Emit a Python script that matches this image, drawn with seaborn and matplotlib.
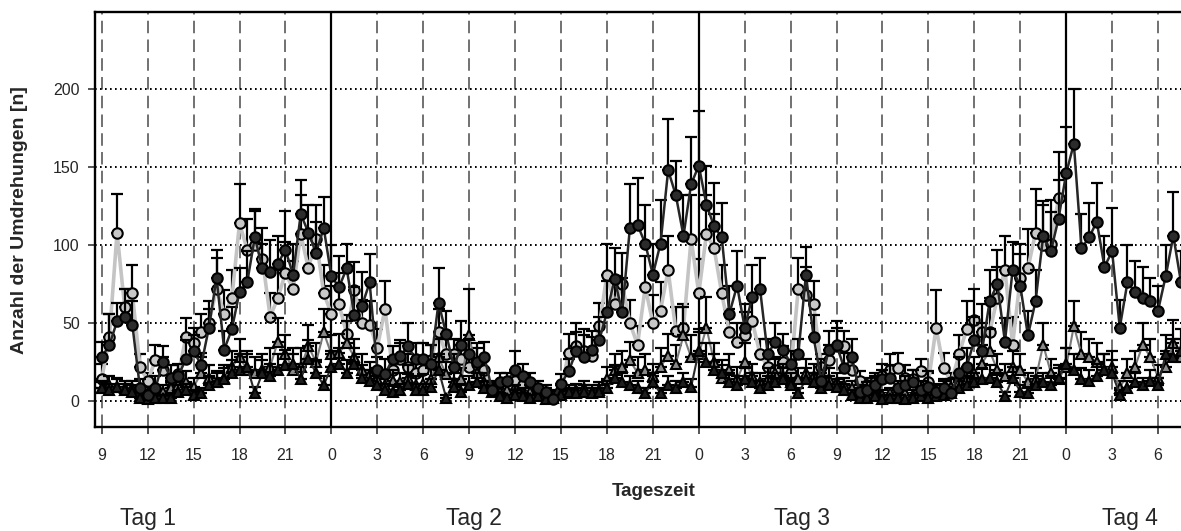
import numpy as np
import pandas as pd
import matplotlib
matplotlib.use('Agg')
import matplotlib.pyplot as plt
import seaborn as sns

# half-hour time points, hours counted from midnight of day 1 (9:00 day 1 .. 7:30 day 4)
hours = np.arange(9, 80, 0.5)

# dark circles
dark_d1 = [28, 36, 51, 54, 49, 8, 4, 8, 25, 15, 16, 27, 32, 23, 47, 79, 33, 46, 70, 76,
           105, 85, 83, 88, 97, 81, 120, 108, 95, 111]
dark_d2 = [80, 73, 85, 55, 61, 76, 20, 17, 27, 29, 35, 27, 27, 24, 63, 43, 22, 36, 30, 25,
           28, 7, 12, 13, 20, 16, 12, 8, 6, 1, 11, 19, 32, 28, 33, 39, 57, 78, 57, 111,
           113, 101, 81, 101, 148, 132, 106, 139]
dark_d3 = [151, 126, 112, 105, 56, 74, 47, 67, 72, 30, 38, 33, 24, 30, 81, 41, 13, 33, 36, 21,
           28, 6, 7, 10, 14, 15, 8, 10, 12, 7, 9, 6, 8, 5, 18, 22, 39, 32, 64, 75,
           38, 84, 74, 42, 64, 106, 96, 117]
dark_d4 = [146, 165, 98, 105, 115, 86, 96, 47, 76, 70, 66, 64, 58, 80, 106, 76]

dark_err_d1 = [10, 20, 12, 18, 15, 6, 5, 8, 10, 8, 8, 12, 10, 8, 12, 18, 12, 14, 15, 20,
               18, 16, 20, 18, 25, 20, 22, 18, 20, 20]
dark_err_d2 = [20, 20, 16, 18, 22, 18, 8, 10, 8, 10, 15, 10, 10, 12, 22, 15, 8, 15, 10, 12,
               10, 5, 6, 5, 12, 8, 6, 5, 4, 3, 6, 8, 12, 14, 12, 15, 20, 20, 22, 28,
               30, 25, 20, 28, 33, 22, 26, 30]
dark_err_d3 = [35, 25, 28, 22, 18, 22, 15, 20, 20, 10, 12, 10, 8, 10, 18, 14, 5, 12, 15, 10,
               12, 4, 5, 6, 6, 8, 5, 6, 8, 6, 10, 4, 6, 4, 10, 12, 15, 18, 20, 22,
               15, 18, 20, 16, 20, 22, 25, 25]
dark_err_d4 = [30, 35, 22, 22, 25, 20, 28, 18, 24, 20, 20, 15, 16, 20, 28, 20]

# light circles (no data on day 4)
light_d1 = [14, 41, 108, 60, 69, 22, 13, 26, 20, 12, 17, 41, 37, 44, 50, 72, 56, 66, 114, 97,
            100, 91, 54, 66, 82, 72, 107, 85, 104, 69]
light_d2 = [56, 62, 43, 71, 50, 49, 34, 59, 20, 27, 22, 18, 20, 26, 44, 30, 30, 27, 22, 24,
            20, 8, 7, 10, 13, 10, 8, 5, 4, 3, 7, 31, 35, 32, 29, 48, 81, 62, 75, 50,
            36, 73, 50, 58, 84, 45, 47, 104]
light_d3 = [69, 107, 98, 69, 44, 38, 42, 51, 30, 22, 20, 25, 18, 72, 68, 62, 22, 26, 35, 35,
            20, 13, 10, 12, 16, 20, 21, 15, 14, 19, 12, 47, 21, 12, 30, 46, 52, 44, 44, 66,
            84, 36, 79, 85, 108, 100, 101, 130]
light_d4 = [np.nan] * 16

light_err_d1 = [10, 15, 25, 12, 18, 8, 5, 10, 8, 5, 6, 12, 10, 12, 14, 20, 15, 18, 25, 20,
                22, 20, 15, 18, 20, 18, 25, 20, 22, 18]
light_err_d2 = [18, 20, 12, 18, 15, 15, 12, 18, 8, 10, 8, 6, 8, 10, 15, 10, 10, 12, 8, 10,
                8, 4, 4, 5, 6, 5, 4, 3, 3, 2, 4, 12, 15, 14, 12, 15, 20, 18, 20, 15,
                12, 20, 18, 18, 22, 15, 15, 28]
light_err_d3 = [22, 25, 22, 18, 15, 12, 15, 15, 10, 8, 8, 10, 8, 20, 18, 15, 8, 10, 12, 10,
                8, 6, 5, 6, 8, 10, 10, 8, 6, 8, 6, 24, 10, 6, 12, 18, 20, 18, 22, 20,
                22, 18, 22, 25, 28, 26, 28, 30]
light_err_d4 = [np.nan] * 16

# grey triangles
grey_d1 = [8, 10, 9, 8, 8, 3, 4, 5, 6, 8, 10, 12, 9, 18, 15, 12, 15, 22, 28, 20,
           18, 20, 22, 38, 30, 20, 22, 35, 25, 44]
grey_d2 = [30, 31, 37, 28, 20, 17, 14, 10, 13, 12, 15, 10, 11, 14, 28, 17, 12, 14, 42, 18,
           12, 8, 6, 7, 6, 5, 6, 4, 5, 4, 6, 5, 7, 8, 6, 7, 14, 20, 22, 26,
           18, 20, 16, 22, 29, 24, 42, 28]
grey_d3 = [30, 47, 25, 15, 20, 14, 25, 16, 12, 14, 18, 16, 12, 14, 18, 16, 18, 14, 12, 10,
           8, 6, 5, 6, 4, 5, 4, 5, 4, 5, 6, 7, 8, 9, 12, 14, 18, 24, 32, 20,
           16, 22, 20, 12, 14, 36, 18, 14]
grey_d4 = [22, 48, 30, 28, 25, 20, 22, 8, 18, 22, 36, 28, 15, 22, 37, 28]

grey_err_d1 = [5, 6, 6, 5, 5, 3, 3, 3, 4, 5, 6, 7, 6, 10, 8, 7, 8, 10, 12, 10,
               10, 10, 12, 15, 12, 10, 12, 14, 12, 15]
grey_err_d2 = [12, 12, 14, 12, 10, 8, 7, 6, 7, 6, 8, 6, 6, 7, 12, 8, 6, 7, 30, 8,
               6, 5, 4, 4, 4, 3, 4, 3, 3, 3, 4, 3, 4, 5, 4, 5, 8, 10, 10, 12,
               10, 10, 8, 12, 14, 12, 18, 14]
grey_err_d3 = [14, 20, 12, 8, 10, 8, 12, 8, 6, 7, 9, 8, 6, 7, 9, 8, 9, 7, 6, 5,
               5, 4, 3, 4, 3, 3, 3, 3, 3, 3, 4, 4, 5, 5, 6, 8, 10, 12, 14, 10,
               8, 10, 10, 6, 7, 14, 9, 7]
grey_err_d4 = [12, 16, 14, 12, 12, 10, 10, 5, 9, 10, 14, 12, 8, 10, 15, 12]

# black triangles
black_d1 = [8, 7, 9, 7, 6, 2, 1, 2, 2, 2, 6, 7, 4, 5, 10, 12, 14, 18, 20, 22,
            5, 18, 16, 20, 23, 24, 14, 27, 18, 10]
black_d2 = [22, 24, 18, 24, 15, 13, 10, 7, 6, 7, 11, 7, 7, 9, 20, 2, 9, 6, 10, 12,
            8, 6, 3, 2, 4, 3, 2, 3, 1, 2, 4, 6, 5, 6, 5, 6, 8, 15, 12, 10,
            8, 5, 12, 5, 10, 8, 12, 9]
black_d3 = [32, 25, 20, 18, 12, 10, 14, 12, 8, 10, 12, 14, 10, 5, 14, 12, 8, 10, 9, 7,
            4, 2, 2, 3, 1, 2, 2, 1, 2, 3, 2, 3, 4, 5, 8, 10, 12, 14, 15, 12,
            3, 15, 6, 5, 10, 12, 10, 15]
black_d4 = [24, 20, 14, 13, 16, 20, 18, 4, 8, 12, 10, 13, 10, 30, 28, 32]

black_err_d1 = [4, 4, 5, 4, 4, 2, 2, 2, 2, 2, 4, 4, 3, 3, 6, 6, 7, 8, 10, 10,
                4, 8, 8, 10, 10, 10, 8, 12, 8, 6]
black_err_d2 = [10, 10, 8, 10, 8, 7, 6, 4, 4, 4, 6, 4, 4, 5, 10, 2, 5, 4, 6, 6,
                5, 4, 2, 2, 3, 2, 2, 2, 1, 2, 3, 4, 3, 4, 3, 4, 5, 8, 6, 6,
                5, 3, 6, 3, 6, 5, 6, 5]
black_err_d3 = [14, 12, 10, 8, 6, 6, 7, 6, 5, 6, 6, 7, 5, 3, 7, 6, 5, 6, 5, 4,
                3, 2, 2, 2, 1, 2, 2, 1, 2, 2, 2, 2, 3, 3, 5, 6, 6, 7, 8, 6,
                3, 7, 4, 3, 6, 6, 6, 8]
black_err_d4 = [10, 10, 7, 7, 8, 10, 8, 3, 5, 6, 5, 7, 5, 12, 12, 14]

tick_hours = list(range(9, 80, 3))
day_labels = ['Tag 1', 'Tag 2', 'Tag 3', 'Tag 4']

df = pd.DataFrame({
    'hour': hours,
    'dark': dark_d1 + dark_d2 + dark_d3 + dark_d4,
    'dark_err': dark_err_d1 + dark_err_d2 + dark_err_d3 + dark_err_d4,
    'light': light_d1 + light_d2 + light_d3 + light_d4,
    'light_err': light_err_d1 + light_err_d2 + light_err_d3 + light_err_d4,
    'grey': grey_d1 + grey_d2 + grey_d3 + grey_d4,
    'grey_err': grey_err_d1 + grey_err_d2 + grey_err_d3 + grey_err_d4,
    'black': black_d1 + black_d2 + black_d3 + black_d4,
    'black_err': black_err_d1 + black_err_d2 + black_err_d3 + black_err_d4,
})

sns.set_style('ticks')
plt.rcParams['font.family'] = ['Liberation Sans', 'DejaVu Sans']
plt.rcParams['lines.scale_dashes'] = False

fig = plt.figure(figsize=(11.81, 5.31), dpi=100)
ax = fig.add_axes([95 / 1181, 1 - 427 / 531, 1 - 95 / 1181, 415 / 531])

# grid
for h in tick_hours:
    if h % 24 == 0:
        ax.axvline(h, color='black', lw=1.6, zorder=1)
    else:
        ax.axvline(h, color='#4a4a4a', lw=1.1, ls=(0, (9, 4.5)), zorder=1)
for y in [0, 50, 100, 150, 200]:
    ax.axhline(y, color='black', lw=1.4, ls=(0, (1.2, 2.4)), zorder=1)

series = [
    ('light', '#c8c8c8', '#c4c4c4', 'o', 2.6),
    ('grey', '#8a8a8a', '#7a7a7a', '^', 1.5),
    ('black', '#1e1e1e', '#2a2a2a', '^', 1.5),
    ('dark', '#2b2b2b', '#262626', 'o', 1.8),
]
z = 2
for col, fill, linecol, mk, lw in series:
    ax.errorbar(df['hour'], df[col], yerr=[np.zeros(len(df)), df[col + '_err']],
                fmt='none', ecolor='black', elinewidth=1.6, capsize=4.5, capthick=1.6,
                zorder=z)
    sns.lineplot(data=df, x='hour', y=col, ax=ax, color=linecol, lw=lw,
                 marker=mk, markersize=7.5 if mk == 'o' else 7.8,
                 markerfacecolor=fill, markeredgecolor='black', markeredgewidth=1.5,
                 estimator=None, sort=False, zorder=z + 1)
    z += 2

ax.set_xlim(8.56, 79.5)
ax.set_ylim(-16.7, 249.5)
ax.set_xticks(tick_hours)
ax.set_xticklabels([str(h % 24) for h in tick_hours], fontsize=11.5)
ax.set_yticks([0, 50, 100, 150, 200])
ax.set_yticklabels(['0', '50', '100', '150', '200'], fontsize=11.5)
ax.tick_params(axis='x', direction='out', length=5, width=1.1, pad=10)
ax.tick_params(axis='y', direction='out', length=5, width=1.1, pad=6)
ax.set_xlabel('')
ax.set_ylabel('')
for s in ['left', 'top', 'bottom']:
    ax.spines[s].set_linewidth(1.7)
    ax.spines[s].set_color('black')
ax.spines['right'].set_visible(False)

fig.text(20 / 1181, 1 - 220 / 531, 'Anzahl der Umdrehungen [n]', rotation=90,
         ha='center', va='center', fontsize=14, fontweight='bold')
fig.text(654 / 1181, 1 - 491 / 531, 'Tageszeit', ha='center', va='center',
         fontsize=13.5, fontweight='bold')
for lab, xp in zip(day_labels, [148, 474, 802, 1130]):
    fig.text(xp / 1181, 1 - 518 / 531, lab, ha='center', va='center', fontsize=16.5)

fig.savefig('out.png', dpi=100)
